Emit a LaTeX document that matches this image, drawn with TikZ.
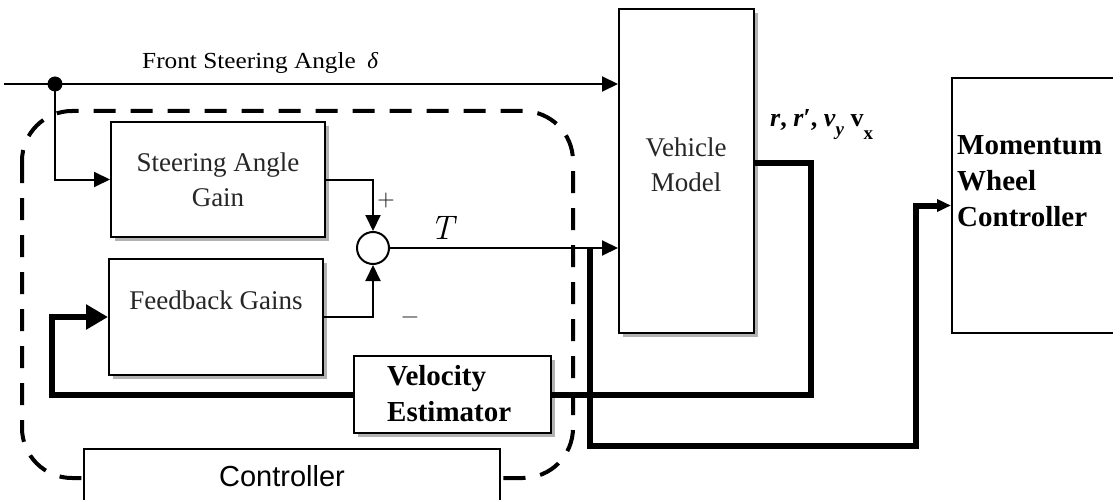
\documentclass[tikz,border=0pt]{standalone}
\usepackage{fontspec}
\setmainfont{Liberation Serif}
\setsansfont{Liberation Sans}
\newfontfamily\lmfont{Latin Modern Roman}
\usetikzlibrary{arrows.meta,shadows}
\begin{document}
\begin{tikzpicture}[x=1pt,y=-1pt,
  thinline/.style={line width=2pt},
  thickline/.style={line width=6pt, line join=miter},
  box/.style={draw, line width=2pt, fill=white, inner sep=0pt},
  shadowed/.style={drop shadow={shadow xshift=4pt,shadow yshift=-4pt,fill=gray!60,opacity=1}},
  txt/.style={font=\fontsize{27}{35}\selectfont, text=black!85, align=center, inner sep=0pt},
  btxt/.style={font=\fontsize{29}{36}\selectfont\bfseries, align=left, inner sep=0pt},
  tip/.style={-{Triangle[length=16pt,width=15pt]}},
  bigtip/.style={-{Triangle[length=22pt,width=24pt]}},
  smalltip/.style={-{Triangle[length=14pt,width=12pt]}},
  dashbox/.style={line width=4pt, dash pattern=on 22pt off 15pt, rounded corners=50pt}
]
\useasboundingbox (0,0) rectangle (1113,500);

% dashed controller region
\draw[dashbox] (22,111) rectangle (573,478);

% blocks
\node[box, shadowed, minimum width=214pt, minimum height=115pt] (sag) at (218,179.5) {};
\node[box, shadowed, minimum width=214pt, minimum height=116pt] (fb) at (216,317) {};
\node[box, shadowed, minimum width=197pt, minimum height=77pt] (ve) at (452.5,394.5) {};
\node[box, shadowed, minimum width=135pt, minimum height=324pt] (vm) at (686.5,171) {};
\node[box, minimum width=166pt, minimum height=255pt] (mw) at (1035,205.5) {};
\node[box, minimum width=416pt, minimum height=62pt] (ctl) at (292,480) {};
\node[circle, draw, line width=2pt, fill=white, minimum size=32pt, inner sep=0pt] (sum) at (373,248) {};
\node[circle, fill=black, minimum size=15pt, inner sep=0pt] (dot) at (55,84) {};

% texts
\node[txt] (sagt) at (218,180) {Steering Angle\\Gain};
\node[txt] (fbt) at (216,300) {Feedback Gains};
\node[txt] (vmt) at (686,165) {Vehicle\\Model};
\node[btxt, anchor=west] (vet) at (387,394) {Velocity\\Estimator};
\node[btxt, anchor=west] (mwt) at (957,181) {Momentum\\Wheel\\Controller};
\node[font=\sffamily\fontsize{29}{34}\selectfont, inner sep=0pt] (ctlt) at (282,476) {Controller};
\node[anchor=base west, inner sep=0pt, font=\fontsize{23}{28}\selectfont] (fsa) at (142,69)
  {\scalebox{1.1}[1]{Front Steering Angle}\ \ \textit{δ}};
\node[font=\lmfont\itshape\fontsize{34}{40}\selectfont, inner sep=0pt] (tlab) at (442,228) {T};
\node[font=\lmfont\fontsize{24}{28}\selectfont, inner sep=0pt] (plus) at (386,201) {+};
\node[font=\lmfont\fontsize{24}{28}\selectfont, inner sep=0pt] (minus) at (410,320) {−};
\node[anchor=base west, inner sep=0pt, font=\fontsize{26}{30}\selectfont\bfseries] (outs) at (770,127)
  {\textit{r}, \textit{r}′, \textit{v}\raisebox{-9pt}{\fontsize{19}{20}\selectfont\textit{y}} v\raisebox{-13pt}{\fontsize{19}{20}\selectfont x}};

% coordinates
\coordinate (start) at (4,84);
\coordinate (br) at (590,248);
\coordinate (fl) at (52,394.5);
\coordinate (bl) at (916,446);

% thin connectors
\draw[thinline] (start) -- (dot.center);
\draw[thinline, tip] (dot.center) -- (dot -| vm.west);
\draw[thinline, tip] (dot.center) |- (sag.west);
\draw[thinline, tip] (sag.east) -| (sum.north);
\draw[thinline, tip] (fb.east) -| (sum.south);
\draw[thinline, tip] (sum.east) -- (sum.east -| vm.west);

% thick connectors
\draw[thickline] ([yshift=8pt]vm.east) -- ++(56,0) |- (ve.east);
\draw[thickline, bigtip] (ve.west) -- (fl) |- (fb.west);
\draw[thickline, smalltip] (br) |- (bl) |- (mw.west);
\end{tikzpicture}
\end{document}
